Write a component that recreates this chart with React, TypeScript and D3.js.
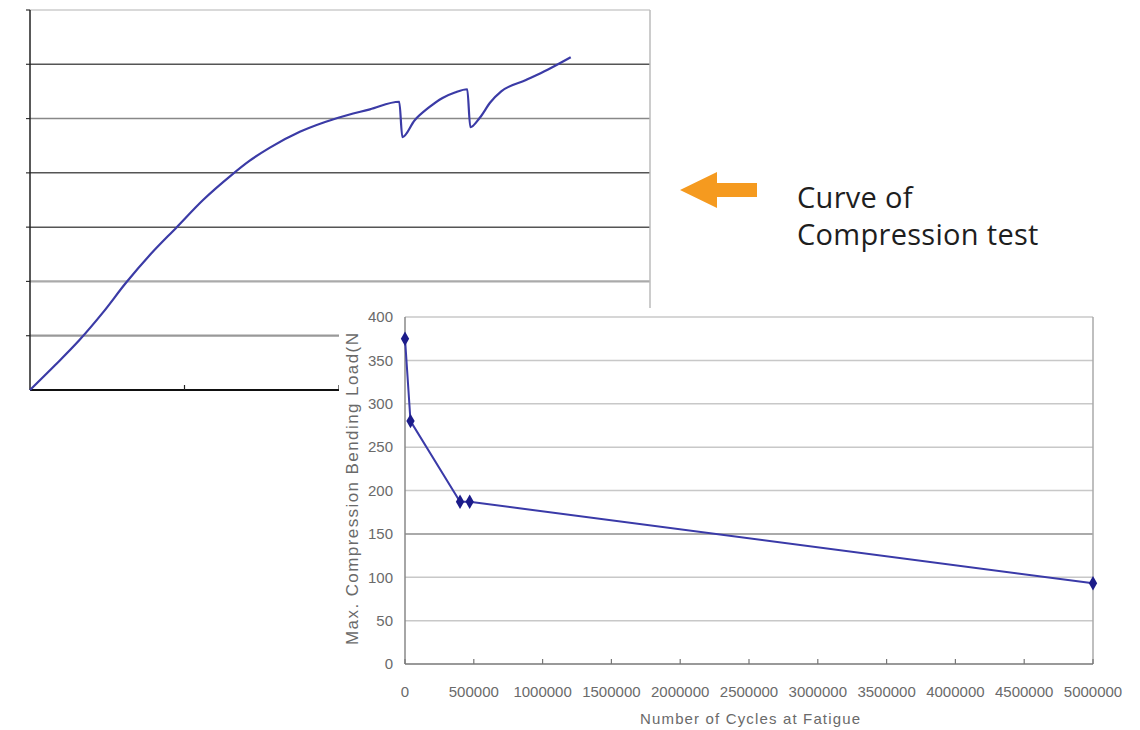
import React, { useEffect } from "react";
import * as d3 from "d3";

// ---- Top chart (compression test curve), unitless grid ----
const topX = [0, 0.16, 0.32, 0.47, 0.62, 0.78, 0.95, 1.12, 1.3, 1.42, 1.55, 1.75, 1.99, 2.2, 2.39, 2.41, 2.49, 2.58, 2.67, 2.75, 2.83, 2.85, 2.91, 2.98, 3.05, 3.21, 3.35, 3.5];
const topY = [0, 0.45, 0.92, 1.42, 1.97, 2.5, 3.0, 3.5, 3.95, 4.22, 4.46, 4.76, 5.01, 5.17, 5.31, 4.66, 4.97, 5.2, 5.38, 5.48, 5.54, 4.84, 5.01, 5.3, 5.5, 5.71, 5.9, 6.13];
const topGrid = [1, 2, 3, 4, 5, 6, 7];
const topGridColors = ["#999", "#aaa", "#555", "#555", "#888", "#555", "#ccc"];
const topXTicks = [1, 2];

// ---- Bottom chart (fatigue) ----
const cycles = [0, 40000, 400000, 470000, 5000000];
const loads = [375, 280, 187, 187, 93];
const yTicks = [0, 50, 100, 150, 200, 250, 300, 350, 400];
const xTicks = [0, 500000, 1000000, 1500000, 2000000, 2500000, 3000000, 3500000, 4000000, 4500000, 5000000];

const legendLines = ["Curve of", "Compression test"];

export default function App() {
  useEffect(() => {
    document.body.style.margin = "0";
  }, []);

  const xT = d3.scaleLinear().domain([0, 4]).range([30, 648]);
  const yT = d3.scaleLinear().domain([0, 7]).range([390, 10]);
  const topLine = d3
    .line<number>()
    .x((_, i) => xT(topX[i]))
    .y((d) => yT(d))
    .curve(d3.curveMonotoneX)(topY);

  const xB = d3.scaleLinear().domain([0, 5000000]).range([405, 1093]);
  const yB = d3.scaleLinear().domain([0, 400]).range([664, 317]);
  const botLine = d3
    .line<number>()
    .x((_, i) => xB(cycles[i]))
    .y((d) => yB(d))(loads);
  const diamond = d3.symbol().type(d3.symbolDiamond).size(60)();

  const font = "'Liberation Sans', Arial, sans-serif";

  return (
    <div style={{ position: "absolute", left: 0, top: 0 }}>
      <svg width={1140} height={730} style={{ display: "block", background: "#fff" }}>
        {/* top chart */}
        <g>
          {topGrid.map((g, i) => (
            <line
              key={g}
              x1={xT(0)}
              x2={650}
              y1={yT(g)}
              y2={yT(g)}
              stroke={topGridColors[i]}
              strokeWidth={g === 1 || g === 2 ? 2.2 : 1.5}
            />
          ))}
          {topGrid.map((g) => (
            <line key={"lt" + g} x1={xT(0) - 4} x2={xT(0)} y1={yT(g)} y2={yT(g)} stroke="#333" strokeWidth={1.2} />
          ))}
          <line x1={650} x2={650} y1={yT(7)} y2={310} stroke="#bbb" strokeWidth={1.5} />
          <line x1={xT(0)} x2={xT(0)} y1={yT(7)} y2={yT(0)} stroke="#222" strokeWidth={1.5} />
          <line x1={xT(0)} x2={650} y1={yT(0)} y2={yT(0)} stroke="#111" strokeWidth={2} />
          {topXTicks.map((t) => (
            <line key={"xt" + t} x1={xT(t)} x2={xT(t)} y1={yT(0) - 5} y2={yT(0)} stroke="#222" strokeWidth={1.2} />
          ))}
          <path d={topLine || ""} fill="none" stroke="#3b3ba6" strokeWidth={2.2} strokeLinejoin="round" />
        </g>

        {/* arrow + caption */}
        <path d="M680,190 L717,172 L717,183 L757,183 L757,197 L717,197 L717,208 Z" fill="#f59a1f" />
        <text fontFamily="'Open Sans', 'Noto Sans', sans-serif" fontSize={29} fill="#1e1e1e" letterSpacing={0.3}>
          {legendLines.map((t, i) => (
            <tspan key={t} x={797} y={208 + i * 37}>
              {t}
            </tspan>
          ))}
        </text>

        {/* bottom chart */}
        <g>
          <rect x={339} y={308} width={801} height={422} fill="#fff" />
          {yTicks.slice(1).map((t) => (
            <line
              key={"g" + t}
              x1={xB(0)}
              x2={xB(5000000)}
              y1={yB(t)}
              y2={yB(t)}
              stroke={t === 150 ? "#aaa" : "#c8c8c8"}
              strokeWidth={t === 150 ? 2 : 1.5}
            />
          ))}
          <line x1={xB(5000000)} x2={xB(5000000)} y1={yB(400)} y2={yB(0)} stroke="#aaa" strokeWidth={1.5} />
          <line x1={xB(0)} x2={xB(0)} y1={yB(400)} y2={yB(0)} stroke="#888" strokeWidth={1.5} />
          <line x1={xB(0)} x2={xB(5000000)} y1={yB(0)} y2={yB(0)} stroke="#777" strokeWidth={1.5} />
          {xTicks.map((t) => (
            <line key={"xtb" + t} x1={xB(t)} x2={xB(t)} y1={yB(0) - 5} y2={yB(0)} stroke="#777" strokeWidth={1.2} />
          ))}
          {yTicks.map((t) => (
            <text
              key={"yl" + t}
              x={393}
              y={yB(t)}
              dy="0.35em"
              textAnchor="end"
              fontFamily={font}
              fontSize={15}
              fill="#6a6a6a"
            >
              {t}
            </text>
          ))}
          {xTicks.map((t) => (
            <text
              key={"xl" + t}
              x={xB(t)}
              y={697}
              textAnchor="middle"
              fontFamily={font}
              fontSize={15}
              fill="#6a6a6a"
            >
              {t}
            </text>
          ))}
          <text
            x={750}
            y={724}
            textAnchor="middle"
            fontFamily={font}
            fontSize={15}
            fill="#6a6a6a"
            textLength={220}
          >
            Number of Cycles at Fatigue
          </text>
          <text
            transform="translate(358,489) rotate(-90)"
            textAnchor="middle"
            fontFamily={font}
            fontSize={17}
            fill="#6a6a6a"
            textLength={312}
          >
            Max. Compression Bending Load(N
          </text>
          <path d={botLine || ""} fill="none" stroke="#3a3aa8" strokeWidth={2} />
          {loads.map((v, i) => (
            <path key={"m" + i} d={diamond || ""} transform={`translate(${xB(cycles[i])},${yB(v)})`} fill="#1c1c8a" />
          ))}
        </g>
      </svg>
    </div>
  );
}
